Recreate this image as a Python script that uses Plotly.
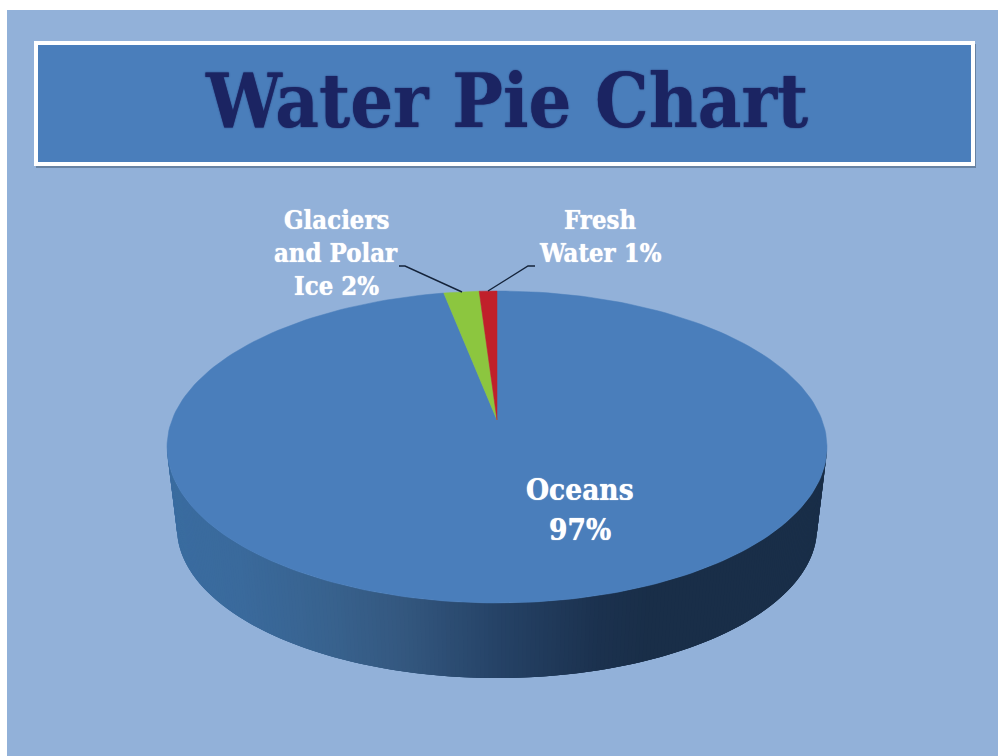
import numpy as np
import plotly.graph_objects as go

# --- data -------------------------------------------------------------
categories = ["Oceans", "Glaciers and Polar Ice", "Fresh Water"]
values = [97, 2, 1]
title_text = "Water Pie Chart"
glacier_lines = ["Glaciers", "and Polar", "Ice 2%"]
fresh_lines = ["Fresh", "Water 1%"]
ocean_lines = ["Oceans", "97%"]
colors = {"Oceans": "#4a7ebb", "Glaciers and Polar Ice": "#8cc63f", "Fresh Water": "#c0202a"}
side_x_stops = [167, 240, 330, 400, 500, 600, 650, 826]
side_colors = [(58, 108, 160), (58, 106, 156), (56, 98, 142), (52, 88, 128), (37, 66, 102), (27, 49, 78), (25, 46, 72), (25, 46, 72)]

# --- geometry (pixel-like axes) ----------------------------------------
CX, CY, RX, RY = 497, 447, 330, 156      # top ellipse
BCX, BCY, BRX, BRY = 497, 528, 320, 150  # bottom ellipse
APEX = (497, 420)                        # perspective apex of the slices
FORESHORTEN = 0.86                       # slices near the back look narrower


def rim(t, cx=CX, cy=CY, rx=RX, ry=RY):
    """t in radians, clockwise from the top of the ellipse."""
    return cx + rx * np.sin(t), cy - ry * np.cos(t)


fig = go.Figure()

# side wall: overlapping strips painted in order, so no seams show
edges = np.linspace(np.pi / 2, 3 * np.pi / 2, 241)
step = edges[1] - edges[0]
for a in edges[:-1]:
    b = min(a + 3 * step, edges[-1])
    ts = np.linspace(a, b, 4)
    x1, y1 = rim(ts)
    x2, y2 = rim(ts[::-1], BCX, BCY, BRX, BRY)
    xm = (rim(a + step / 2)[0] + rim(a + step / 2, BCX, BCY, BRX, BRY)[0]) / 2
    rgb = [int(round(np.interp(xm, side_x_stops, [c[i] for c in side_colors]))) for i in range(3)]
    col = f"rgb({rgb[0]},{rgb[1]},{rgb[2]})"
    fig.add_trace(go.Scatter(x=list(x1) + list(x2), y=list(y1) + list(y2), mode="lines", fill="toself",
                             fillcolor=col, line=dict(width=0), hoverinfo="skip", showlegend=False))

# slices, derived from the values
fresh_end = values[2] / 100 * 2 * np.pi * FORESHORTEN
glacier_end = fresh_end + values[1] / 100 * 2 * np.pi * FORESHORTEN
spans = {
    "Fresh Water": (-fresh_end, 0.0),
    "Glaciers and Polar Ice": (-glacier_end, -fresh_end),
    "Oceans": (0.0, 2 * np.pi - glacier_end),
}
for name in categories:
    a, b = spans[name]
    n = 240 if name == "Oceans" else 8
    ts = np.linspace(a, b, n)
    x, y = rim(ts)
    fig.add_trace(go.Scatter(x=[APEX[0], *x, APEX[0]], y=[APEX[1], *y, APEX[1]], mode="lines", fill="toself",
                             fillcolor=colors[name], line=dict(color=colors[name], width=0.5),
                             name=name, hoverinfo="name", showlegend=False))

# leader lines
for lx, ly in [([399, 405, 462], [266, 266, 292]), ([535, 528, 488], [266, 266, 291])]:
    fig.add_trace(go.Scatter(x=lx, y=ly, mode="lines", line=dict(color="#14233a", width=1.4),
                             hoverinfo="skip", showlegend=False))

SERIF = "DejaVu Serif Condensed"
shapes = [
    dict(type="rect", x0=7, x1=998, y0=10, y1=756, fillcolor="#92b1d9", line_width=0, layer="below"),
    dict(type="rect", x0=36, x1=976, y0=44, y1=168, fillcolor="rgba(40,60,80,0.40)", line_width=0, layer="below"),
    dict(type="rect", x0=36, x1=973, y0=43, y1=164, fillcolor="#4a7ebb",
         line=dict(color="white", width=4), layer="below"),
]
annotations = [dict(x=506, y=101, text=f"<b>{title_text}</b>",
                    font=dict(family=SERIF, size=75, color="#1b2462", shadow="0 0 1.5px #1b2462"))]
for lines, cx, ys, size in [
    (glacier_lines, 336, [220, 253, 286], 25.5),
    (fresh_lines, 600, [220, 253], 25.5),
    (ocean_lines, 580, [489, 529], 29.5),
]:
    for line, y in zip(lines, ys):
        annotations.append(dict(x=cx, y=y, text=f"<b>{line}</b>",
                                font=dict(family=SERIF, size=size, color="white", shadow="0 0 1px white")))
for an in annotations:
    an.update(xref="x", yref="y", showarrow=False, xanchor="center", yanchor="middle", align="center")

fig.update_layout(
    width=998, height=756, margin=dict(l=0, r=0, t=0, b=0),
    paper_bgcolor="white", plot_bgcolor="rgba(0,0,0,0)", showlegend=False,
    xaxis=dict(range=[0, 998], visible=False, fixedrange=True),
    yaxis=dict(range=[756, 0], visible=False, fixedrange=True),
    shapes=shapes, annotations=annotations,
)
fig.write_html("out.html", post_script="document.body.style.margin='0';", config={"displayModeBar": False})
